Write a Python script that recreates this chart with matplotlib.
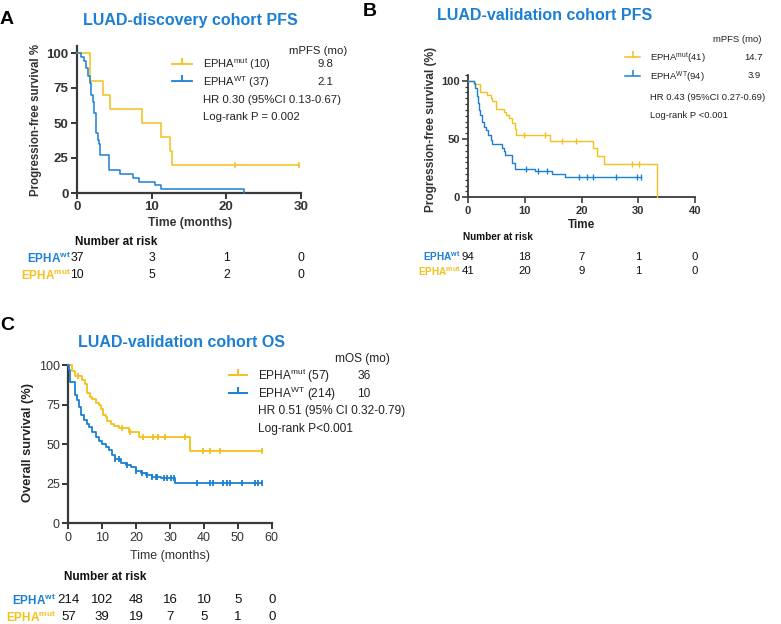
import numpy as np
import matplotlib
matplotlib.use('Agg')
import matplotlib.pyplot as plt
from matplotlib.lines import Line2D
from matplotlib.ticker import MultipleLocator
from matplotlib.transforms import blended_transform_factory

plt.rcParams['font.family'] = ['Liberation Sans', 'DejaVu Sans']
plt.rcParams['mathtext.fontset'] = 'custom'
plt.rcParams['mathtext.rm'] = 'Liberation Sans'
plt.rcParams['mathtext.bf'] = 'Liberation Sans:bold'
plt.rcParams['mathtext.it'] = 'Liberation Sans:italic'

BLUE = '#1b7fd3'
GOLD = '#f3c01c'
AXC = '#3a3a3a'

# ---- Panel A: LUAD-discovery cohort PFS ----
A_mut_t = [0, 1.8, 3.5, 4.4, 8.7, 11.2, 12.4, 12.7, 29.7]
A_mut_s = [100, 80, 70, 60, 50, 40, 30, 20, 20]
A_mut_cens = [21.2, 29.7]
A_wt_t = [0, 0.6, 0.9, 1.2, 1.5, 1.7, 1.9, 2.1, 2.3, 2.5, 2.6, 2.8, 2.9, 3.1,
          4.3, 5.8, 7.5, 8.3, 10.5, 11.2, 22.4]
A_wt_s = [100, 97.3, 94.6, 89.2, 83.8, 78.4, 70.3, 64.9, 56.8, 48.6, 43.2, 37.8,
          35.1, 27.0, 16.2, 13.5, 10.8, 8.1, 5.4, 2.7, 0]
A_wt_cens = []
A_risk_times = [0, 10, 20, 30]
A_risk_wt = [37, 3, 1, 0]
A_risk_mut = [10, 5, 2, 0]

# ---- Panel B: LUAD-validation cohort PFS ----
B_mut_t = [0, 1.1, 2.1, 3.4, 4.0, 4.3, 4.9, 6.4, 6.7, 7.3, 7.8, 8.2, 8.5, 14.5,
           22.1, 22.7, 23.9, 33.3]
B_mut_s = [100, 97.6, 90.2, 87.8, 85.4, 82.9, 75.6, 73.2, 70.7, 68.3, 63.4, 58.5,
           53.7, 48.3, 41.9, 35.2, 28.9, 0]
B_mut_cens = [9.8, 13.5, 16.6, 19.0, 28.9, 30.1]
B_wt_t = [0, 1.1, 1.3, 1.5, 1.7, 1.9, 2.1, 2.4, 2.8, 3.2, 3.6, 4.0, 4.3, 6.0,
          6.3, 6.6, 7.8, 8.2, 11.8, 14.8, 17.1, 30.4]
B_wt_s = [100, 97.9, 93.6, 87.2, 80.9, 74.5, 70.2, 64.9, 60.6, 57.4, 53.2, 48.9,
          45.7, 42.6, 39.4, 36.2, 29.8, 24.5, 22.3, 20.2, 17.6, 17.6]
B_wt_cens = [10.3, 12.3, 14.0, 19.5, 21.0, 22.0, 26.0, 29.8, 30.4]
B_risk_times = [0, 10, 20, 30, 40]
B_risk_wt = [94, 18, 7, 1, 0]
B_risk_mut = [41, 20, 9, 1, 0]

# ---- Panel C: LUAD-validation cohort OS ----
C_mut_t = [0, 1.2, 1.9, 4.1, 4.9, 5.6, 6.4, 7.1, 8.1, 9.0, 9.7, 10.3, 11.0, 11.5,
           12.5, 13.5, 14.9, 17.9, 20.8, 35.9, 57.2]
C_mut_s = [100, 96.5, 93.0, 90.4, 87.7, 82.5, 80.0, 78.3, 76.2, 74.7, 72.0, 68.4,
           67.3, 64.8, 62.7, 61.5, 60.0, 57.9, 54.3, 45.7, 45.7]
C_mut_cens = [2.8, 15.7, 18.2, 22.1, 25.1, 26.6, 28.5, 34.4, 39.8, 41.8, 44.8, 57.2]
C_wt_t = [0, 0.3, 0.6, 1.9, 2.6, 3.1, 3.8, 4.6, 5.4, 6.1, 7.1, 8.1, 9.0, 10.0,
          11.0, 12.0, 12.9, 13.9, 15.4, 16.9, 18.4, 19.9, 21.3, 22.8, 24.8, 27.2,
          31.6, 57.2]
C_wt_s = [100, 96.7, 89.5, 81.0, 77.9, 73.7, 68.4, 65.3, 62.7, 60.6, 57.9, 54.7,
          52.2, 50.1, 48.0, 46.3, 43.1, 40.4, 38.3, 36.8, 35.4, 33.2, 31.6, 30.5,
          29.4, 28.4, 25.3, 25.3]
C_wt_cens = [13.9, 14.9, 17.4, 20.1, 21.8, 23.3, 24.8, 25.8, 26.2, 28.2, 29.2,
             30.2, 31.2, 37.9, 41.8, 42.8, 45.7, 46.7, 47.7, 51.1, 55.1, 56.1, 57.0]
C_risk_times = [0, 10, 20, 30, 40, 50, 60]
C_risk_wt = [214, 102, 48, 16, 10, 5, 0]
C_risk_mut = [57, 39, 19, 7, 5, 1, 0]

W, H = 781, 624
fig = plt.figure(figsize=(W / 100, H / 100), dpi=100)


def fx(px):
    return px / W


def fy(py):
    return 1 - py / H


def make_ax(left, right, y0, ytop):
    return fig.add_axes([fx(left), fy(y0), (right - left) / W, (y0 - ytop) / H])


def km(ax, t, s, cens, color, lw, ms):
    ax.step(t, s, where='post', color=color, lw=lw, clip_on=False, zorder=3)
    if len(cens):
        t = np.asarray(t)
        s = np.asarray(s)
        idx = np.searchsorted(t, cens, side='right') - 1
        ax.plot(cens, s[idx], ls='none', marker='|', ms=ms, mew=lw,
                color=color, clip_on=False, zorder=3)


def style(ax, lw, size, weight):
    for side in ['top', 'right']:
        ax.spines[side].set_visible(False)
    for side in ['left', 'bottom']:
        ax.spines[side].set_color(AXC)
        ax.spines[side].set_linewidth(lw)
    ax.tick_params(colors=AXC, width=lw * 0.9, length=4, labelsize=size, pad=2)
    for lab in ax.get_xticklabels() + ax.get_yticklabels():
        lab.set_fontweight(weight)
        lab.set_color('#333333')


def txt(x, y, s, size, ha='left', weight='normal', color='#222222', **kw):
    fig.text(fx(x), fy(y), s, fontsize=size, ha=ha, va='center',
             fontweight=weight, color=color, **kw)


def legend_line(x0, x1, y, color, lw):
    fig.add_artist(Line2D([fx(x0), fx(x1)], [fy(y), fy(y)], color=color, lw=lw))
    fig.add_artist(Line2D([fx((x0 + x1) / 2)], [fy(y)], marker=2, ms=4,
                          mew=lw, color=color))


def risk_table(ax, times, wt, mut, y_wt, y_mut, size):
    tr = blended_transform_factory(ax.transData, fig.transFigure)
    for t, a, b in zip(times, wt, mut):
        ax.text(t, fy(y_wt), str(a), transform=tr, ha='center', va='center',
                fontsize=size, color='#111111')
        ax.text(t, fy(y_mut), str(b), transform=tr, ha='center', va='center',
                fontsize=size, color='#111111')


# ================= Panel A =================
axA = make_ax(77, 301, 193, 46)
km(axA, A_mut_t, A_mut_s, A_mut_cens, GOLD, 1.1, 5)
km(axA, A_wt_t, A_wt_s, A_wt_cens, BLUE, 1.1, 5)
axA.set_xlim(0, 30)
axA.set_ylim(0, 105)
axA.set_xticks([0, 10, 20, 30])
axA.set_yticks([0, 25, 50, 75, 100])
style(axA, 1.6, 9.5, 'bold')
txt(0, 20, 'A', 14, weight='bold', color='black')
txt(190, 20, 'LUAD-discovery cohort PFS', 11.5, ha='center', weight='bold', color=BLUE)
fig.text(fx(36), fy(120), 'Progression-free survival %', rotation=90, fontsize=8.3,
         fontweight='bold', color='#333333', ha='center', va='center')
txt(190, 223, 'Time (months)', 8.8, ha='center', weight='bold', color='#333333')
txt(289, 51, 'mPFS (mo)', 8.2)
legend_line(172, 192, 64, GOLD, 1.3)
legend_line(172, 192, 81, BLUE, 1.3)
txt(203, 64, r'EPHA$^{\mathrm{mut}}$ (10)', 8.0)
txt(203, 82, r'EPHA$^{\mathrm{WT}}$ (37)', 8.0)
txt(325, 64, '9.8', 8.2, ha='center')
txt(325, 82, '2.1', 8.2, ha='center')
txt(203, 100, 'HR 0.30 (95%CI 0.13-0.67)', 8.2)
txt(203, 117, 'Log-rank P = 0.002', 8.2)
txt(75, 242, 'Number at risk', 8.5, weight='bold', color='#111111')
txt(71, 258, r'$\mathbf{EPHA^{wt}}$', 8.5, ha='right', color=BLUE)
txt(71, 275, r'$\mathbf{EPHA^{mut}}$', 8.5, ha='right', color=GOLD)
risk_table(axA, A_risk_times, A_risk_wt, A_risk_mut, 258, 275, 8.8)

# ================= Panel B =================
axB = make_ax(468, 695, 197.3, 74.9)
km(axB, B_mut_t, B_mut_s, B_mut_cens, GOLD, 1.0, 4)
km(axB, B_wt_t, B_wt_s, B_wt_cens, BLUE, 1.0, 4)
axB.set_xlim(0, 40)
axB.set_ylim(0, 105)
axB.set_xticks([0, 10, 20, 30, 40])
axB.set_yticks([0, 50, 100])
axB.yaxis.set_minor_locator(MultipleLocator(5))
axB.tick_params(which='minor', length=2.5, width=0.9, colors=AXC)
style(axB, 1.3, 8, 'bold')
txt(363, 12, 'B', 14, weight='bold', color='black')
txt(545, 15, 'LUAD-validation cohort PFS', 11.5, ha='center', weight='bold', color=BLUE)
fig.text(fx(431), fy(129), 'Progression-free survival (%)', rotation=90, fontsize=8.6,
         fontweight='bold', color='#333333', ha='center', va='center')
txt(582, 225, 'Time', 8.5, ha='center', weight='bold', color='#222222')
txt(713, 40, 'mPFS (mo)', 6.8)
legend_line(625, 640, 57, GOLD, 1.1)
legend_line(625, 640, 76, BLUE, 1.1)
txt(650, 58, r'EPHA$^{\mathrm{mut}}$(41)', 6.8)
txt(650, 77, r'EPHA$^{\mathrm{WT}}$(94)', 6.8)
txt(754, 57, '14.7', 6.8, ha='center')
txt(754, 76, '3.9', 6.8, ha='center')
txt(650, 98, 'HR 0.43 (95%CI 0.27-0.69)', 6.8)
txt(650, 115, 'Log-rank P <0.001', 6.8)
txt(463, 237, 'Number at risk', 7.2, weight='bold', color='#111111')
txt(461, 256, r'$\mathbf{EPHA^{wt}}$', 7.2, ha='right', color=BLUE)
txt(461, 271, r'$\mathbf{EPHA^{mut}}$', 7.2, ha='right', color=GOLD)
risk_table(axB, B_risk_times, B_risk_wt, B_risk_mut, 257, 271, 8.2)

# ================= Panel C =================
axC = make_ax(68.3, 271.7, 523.3, 365)
km(axC, C_mut_t, C_mut_s, C_mut_cens, GOLD, 1.3, 5)
km(axC, C_wt_t, C_wt_s, C_wt_cens, BLUE, 1.3, 5)
axC.set_xlim(0, 60)
axC.set_ylim(0, 100)
axC.set_xticks([0, 10, 20, 30, 40, 50, 60])
axC.set_yticks([0, 25, 50, 75, 100])
style(axC, 1.6, 9, 'normal')
txt(0, 326, 'C', 14, weight='bold', color='black')
txt(181, 342, 'LUAD-validation cohort OS', 11.5, ha='center', weight='bold', color=BLUE)
fig.text(fx(28), fy(442), 'Overall survival (%)', rotation=90, fontsize=9.3,
         fontweight='bold', color='#222222', ha='center', va='center')
txt(170, 556, 'Time (months)', 9, ha='center', color='#333333')
txt(335, 359, 'mOS (mo)', 8.6)
legend_line(229, 247, 375, GOLD, 1.4)
legend_line(229, 247, 393, BLUE, 1.4)
txt(258, 376, r'EPHA$^{\mathrm{mut}}$ (57)', 8.6)
txt(258, 394, r'EPHA$^{\mathrm{WT}}$ (214)', 8.6)
txt(364, 376, '36', 8.6, ha='center')
txt(364, 394, '10', 8.6, ha='center')
txt(258, 411, 'HR 0.51 (95% CI 0.32-0.79)', 8.6)
txt(258, 429, 'Log-rank P<0.001', 8.6)
txt(64, 577, 'Number at risk', 8.5, weight='bold', color='#111111')
txt(56, 600, r'$\mathbf{EPHA^{wt}}$', 8.5, ha='right', color=BLUE)
txt(56, 617, r'$\mathbf{EPHA^{mut}}$', 8.5, ha='right', color=GOLD)
risk_table(axC, C_risk_times, C_risk_wt, C_risk_mut, 600, 617, 9.5)

fig.savefig('out.png', dpi=100)
